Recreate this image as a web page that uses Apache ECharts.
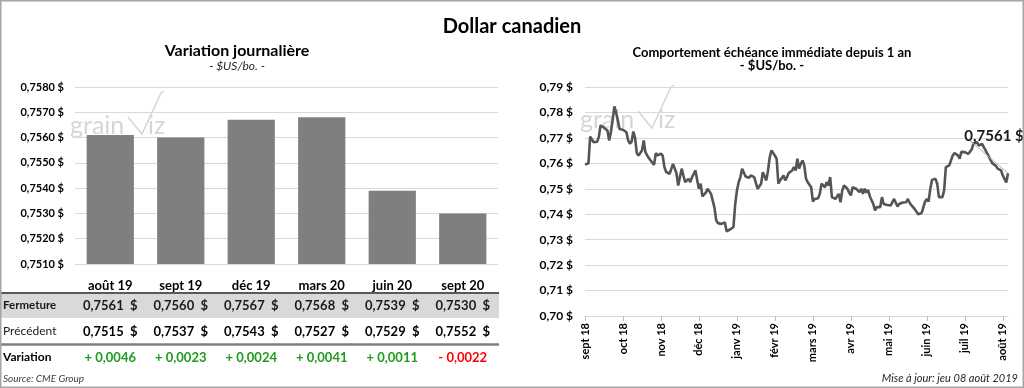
<!DOCTYPE html>
<html><head><meta charset="utf-8">
<script src="https://cdn.jsdelivr.net/npm/echarts@6/dist/echarts.min.js"></script>
<style>html,body{margin:0;padding:0;background:#fff}#c{width:1024px;height:388px}</style>
</head><body><div id="c"></div>
<script>
const barCategories = ['août 19','sept 19','déc 19','mars 20','juin 20','sept 20'];
const fermeture = [0.7561,0.7560,0.7567,0.7568,0.7539,0.7530];
const precedent = [0.7515,0.7537,0.7543,0.7527,0.7529,0.7552];
const variation = [0.0046,0.0023,0.0024,0.0041,0.0011,-0.0022];
const rowLabels = ['Fermeture','Précédent','Variation'];

const monthLabels = ['sept 18','oct 18','nov 18','déc 18','janv 19','févr 19','mars 19','avr 19','mai 19','juin 19','juil 19','août 19'];
const dailyClose = [
// sept 18
0.7595,0.7596,0.7600,0.7705,0.7703,0.7683,0.7683,0.7685,0.7703,0.7749,0.7745,0.7740,0.7736,0.7729,0.7690,0.7723,0.7769,0.7824,0.7800,0.7769,0.7735,0.7736,
// oct 18
0.7732,0.7725,0.7722,0.7690,0.7677,0.7685,0.7725,0.7700,0.7640,0.7631,0.7638,0.7650,0.7690,0.7644,0.7631,0.7624,0.7611,0.7605,0.7594,0.7640,0.7631,0.7624,
// nov 18
0.7638,0.7630,0.7585,0.7566,0.7562,0.7559,0.7552,0.7598,0.7592,0.7560,0.7513,0.7546,0.7579,0.7552,0.7526,0.7520,0.7539,0.7526,0.7546,0.7559,0.7572,0.7533,
// déc 18
0.7500,0.7520,0.7470,0.7465,0.7485,0.7500,0.7493,0.7480,0.7474,0.7425,0.7376,0.7365,0.7365,0.7362,0.7360,0.7368,0.7333,0.7336,0.7340,0.7343,0.7350,0.7440,
// janv 19
0.7493,0.7526,0.7546,0.7579,0.7572,0.7548,0.7548,0.7543,0.7552,0.7546,0.7546,0.7548,0.7500,0.7500,0.7520,0.7565,0.7559,0.7533,0.7572,0.7624,0.7651,0.7644,
// févr 19
0.7630,0.7618,0.7520,0.7533,0.7526,0.7552,0.7533,0.7546,0.7562,0.7566,0.7572,0.7585,0.7572,0.7618,0.7579,0.7598,0.7611,0.7592,0.7540,0.7526,0.7520,0.7506,
// mars 19
0.7450,0.7460,0.7460,0.7463,0.7480,0.7520,0.7513,0.7506,0.7526,0.7513,0.7546,0.7467,0.7460,0.7460,0.7460,0.7480,0.7447,0.7493,0.7513,0.7506,0.7500,0.7485,
// avr 19
0.7474,0.7506,0.7513,0.7500,0.7506,0.7487,0.7500,0.7480,0.7500,0.7485,0.7495,0.7470,0.7474,0.7440,0.7415,0.7428,0.7434,0.7428,0.7467,0.7440,0.7441,0.7436,
// mai 19
0.7430,0.7434,0.7428,0.7460,0.7445,0.7430,0.7440,0.7445,0.7446,0.7441,0.7447,0.7460,0.7445,0.7436,0.7430,0.7420,0.7415,0.7400,0.7395,0.7405,0.7428,0.7450,
// juin 19
0.7460,0.7450,0.7500,0.7535,0.7539,0.7539,0.7520,0.7467,0.7460,0.7467,0.7493,0.7585,0.7585,0.7592,0.7596,0.7631,0.7640,0.7644,0.7631,0.7618,0.7645,0.7650,
// juil 19
0.7644,0.7644,0.7637,0.7630,0.7655,0.7677,0.7680,0.7683,0.7670,0.7675,0.7676,0.7664,0.7651,0.7638,0.7625,0.7612,0.7600,0.7598,0.7590,0.7579,0.7572,0.7572,
// août 19
0.7552,0.7559,0.7525,0.7561
];
const DAYS_PER_TICK = 22;
const dayCategories = dailyClose.map((_, i) => String(i));

const FONT = 'Lato';
const fmt = (v, d) => v.toFixed(d).replace('.', ',');

const chart = echarts.init(document.getElementById('c'), null, {renderer: 'canvas'});

const lastIdx = dailyClose.length - 1;
const lineData = dailyClose.map((v, i) => i === lastIdx ? {
  value: v,
  label: {show: true, position: 'top', distance: 4, formatter: p => fmt(p.value, 4) + ' $',
    fontFamily: FONT, fontWeight: 'bold', fontSize: 15, color: '#1a1a1a'},
  labelLine: {show: true, lineStyle: {color: '#b0b0b0', width: 1}}
} : v);

function wm(x0, y0) {
  return [
    {type: 'text', z: -5, left: x0, top: y0, style: {text: 'grain', font: '25px Lato', fill: '#d6d6d6'}},
    {type: 'polyline', z: -5, shape: {points: [[x0 + 58, y0 + 4], [x0 + 72, y0 + 21], [x0 + 91, y0 - 20], [x0 + 94, y0 - 22]]},
      style: {stroke: '#d6d6d6', lineWidth: 1.5, fill: null}},
    {type: 'text', z: -5, left: x0 + 78, top: y0, style: {text: 'iz', font: '25px Lato', fill: '#d6d6d6'}}
  ];
}

const option = {
  animation: false,
  backgroundColor: '#fff',
  title: [
    {text: 'Dollar canadien', left: 'center', top: 12, textStyle: {fontFamily: FONT, fontWeight: 'bold', fontSize: 20, color: '#000'}},
    {text: 'Variation journalière', subtext: '- $US/bo. -', left: 232, textAlign: 'center', top: 38, itemGap: 1,
      textStyle: {fontFamily: FONT, fontWeight: 'bold', fontSize: 16, color: '#000'},
      subtextStyle: {fontFamily: FONT, fontStyle: 'italic', fontSize: 12, color: '#262626'}},
    {text: 'Comportement échéance immédiate depuis 1 an', subtext: '- $US/bo. -', left: 767, textAlign: 'center', top: 41, itemGap: 0,
      textStyle: {fontFamily: FONT, fontWeight: 'bold', fontSize: 13, color: '#000'},
      subtextStyle: {fontFamily: FONT, fontWeight: 'bold', fontSize: 13, color: '#000'}}
  ],
  grid: [
    {left: 75, right: 526, top: 87, bottom: 124},
    {left: 585, right: 16, top: 87, bottom: 72}
  ],
  xAxis: [
    {type: 'category', gridIndex: 0, data: barCategories,
      axisLine: {show: false}, axisTick: {show: false},
      axisLabel: {interval: 0, hideOverlap: false, margin: 12, fontFamily: FONT,
        formatter: (val, i) => {
          const v = variation[i];
          const vs = (v >= 0 ? '{vp|+ ' : '{vn|- ') + fmt(Math.abs(v), 4) + '}';
          return '{m|' + val + '}\n{f|' + fmt(fermeture[i], 4) + '  $}\n{p|' + fmt(precedent[i], 4) + '  $}\n' + vs;
        },
        rich: {
          m: {fontFamily: FONT, fontWeight: 'bold', fontSize: 13, color: '#000', lineHeight: 20},
          f: {fontFamily: FONT, fontWeight: 'bold', fontSize: 13, color: '#1a1a1a', lineHeight: 20},
          p: {fontFamily: FONT, fontWeight: 'bold', fontSize: 13, color: '#000', lineHeight: 32},
          vp: {fontFamily: FONT, fontWeight: 'bold', fontSize: 13, color: '#1e9a1e', lineHeight: 20},
          vn: {fontFamily: FONT, fontWeight: 'bold', fontSize: 13, color: '#ff0000', lineHeight: 20}
        }}},
    {type: 'category', gridIndex: 1, data: dayCategories, boundaryGap: false,
      axisLine: {lineStyle: {color: '#d9d9d9'}},
      axisTick: {show: true, interval: i => i % DAYS_PER_TICK === 0, length: 5, lineStyle: {color: '#bfbfbf'}},
      axisLabel: {interval: i => i % DAYS_PER_TICK === 0, rotate: 90, margin: 7,
        fontFamily: FONT, fontWeight: 'bold', fontSize: 11, color: '#000',
        formatter: (val, i) => monthLabels[Math.round(i / DAYS_PER_TICK)] || ''}}
  ],
  yAxis: [
    {type: 'value', gridIndex: 0, min: 0.751, max: 0.758, interval: 0.001,
      axisLine: {show: false}, axisTick: {show: false},
      splitLine: {lineStyle: {color: '#d9d9d9'}},
      axisLabel: {margin: 11, fontFamily: FONT, fontWeight: 'bold', fontSize: 11, color: '#000',
        formatter: v => fmt(v, 4) + ' $'}},
    {type: 'value', gridIndex: 1, min: 0.70, max: 0.79, interval: 0.01,
      axisLine: {show: false}, axisTick: {show: false},
      splitLine: {lineStyle: {color: '#d9d9d9'}},
      axisLabel: {margin: 12, fontFamily: FONT, fontWeight: 'bold', fontSize: 12, color: '#000',
        formatter: v => fmt(v, 2) + ' $'}}
  ],
  series: [
    {type: 'bar', xAxisIndex: 0, yAxisIndex: 0, data: fermeture, barCategoryGap: '33%',
      itemStyle: {color: '#7f7f7f'}, silent: true},
    {type: 'line', xAxisIndex: 1, yAxisIndex: 1, data: lineData,
      symbol: 'circle', symbolSize: 0, showSymbol: true, showAllSymbol: true,
      itemStyle: {color: '#595959'},
      lineStyle: {color: '#555555', width: 2.6}, silent: true,
      labelLayout: {dx: -14, dy: -26}}
  ],
  graphic: {elements: [
    {type: 'rect', z: -10, shape: {x: 0, y: 293, width: 499, height: 25}, style: {fill: '#d9d9d9'}},
    {type: 'line', z: 10, shape: {x1: 0, y1: 293, x2: 499, y2: 293}, style: {stroke: '#595959', lineWidth: 2}},
    {type: 'line', z: 10, shape: {x1: 0, y1: 344.5, x2: 499, y2: 344.5}, style: {stroke: '#7f7f7f', lineWidth: 2.5}},
    {type: 'text', left: 3, top: 299, style: {text: rowLabels[0], font: 'bold 11.5px Lato', fill: '#1a1a1a'}},
    {type: 'text', left: 3, top: 325, style: {text: rowLabels[1], font: '12px Lato', fill: '#1a1a1a'}},
    {type: 'text', left: 3, top: 351, style: {text: rowLabels[2], font: 'bold 12px Lato', fill: '#000'}},
    {type: 'text', left: 3, top: 374, style: {text: 'Source: CME Group', font: 'italic 10px Lato', fill: '#404040'}},
    {type: 'text', right: 6, top: 373, style: {text: 'Mise à jour: jeu 08 août 2019', font: 'italic 11px Lato', fill: '#262626'}},
    ...wm(70, 113),
    ...wm(580, 107),
    {type: 'rect', z: 100, shape: {x: 0.5, y: 0.5, width: 1023, height: 387}, style: {fill: null, stroke: '#a6a6a6', lineWidth: 2}}
  ]}
};
chart.setOption(option);
</script>
</body></html>
